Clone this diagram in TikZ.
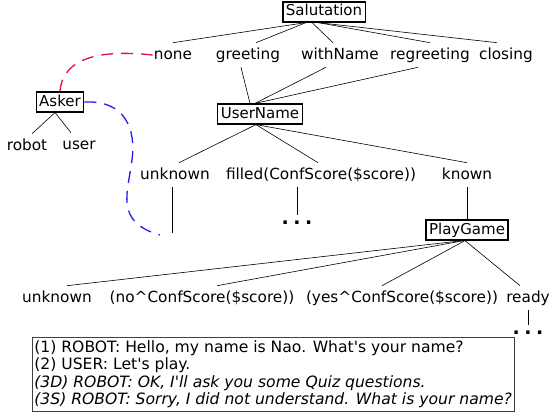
\documentclass[tikz,border=0pt]{standalone}
\usepackage{fontspec}
\setmainfont{DejaVu Sans}
\usepackage{xcolor}
\definecolor{askred}{RGB}{220,20,60}
\definecolor{askblue}{RGB}{30,30,235}
\tikzset{
    tree-box/.style = {draw=black, line width=1.2pt, rectangle, inner xsep=3pt, inner ysep=3pt, text height=11pt, text depth=3pt, font=\fontsize{15}{18}\selectfont},
    tree-label/.style = {inner xsep=1pt, inner ysep=5pt, text height=11pt, text depth=3pt, font=\fontsize{15.3}{18}\selectfont},
    tree-dots/.style = {inner sep=0pt, text height=4pt, text depth=0pt, font=\fontsize{19}{19}\selectfont\bfseries},
    dialog-box/.style = {draw=black!75, line width=0.7pt, rectangle, inner xsep=2pt, inner ysep=3.5pt, align=left, anchor=north west, font=\fontsize{15.6}{17.2}\selectfont},
    asker-link/.style = {line width=1.3pt, dash pattern=on 12pt off 8pt},
}

\begin{document}
\begin{tikzpicture}[x=1pt, y=-1pt, line width=0.6pt]
\useasboundingbox (0,0) rectangle (553,415);
% salutation level
\node[tree-box] (salutation) at (324,12) {Salutation};
\node[tree-label] (none) at (173,55) {none};
\node[tree-label] (greeting) at (248,55) {greeting};
\node[tree-label] (with-name) at (340,55) {withName};
\node[tree-label] (regreeting) at (430,55) {regreeting};
\node[tree-label] (closing) at (506,55) {closing};
\draw ([xshift=-18pt]salutation.south) -- (none.north);
\draw ([xshift=-18pt]salutation.south) -- ([xshift=8pt]greeting.north);
\draw ([xshift=-12pt]salutation.south) -- ([xshift=-7pt]with-name.north);
\draw ([xshift=-6pt]salutation.south) -- (regreeting.north);
\draw ([xshift=-6pt]salutation.south) -- ([xshift=-9pt]closing.north);

% asker
\node[tree-box] (asker) at (60,102) {Asker};
\node[tree-label] (robot) at (27,146) {robot};
\node[tree-label] (user) at (79,145) {user};
\draw ([xshift=-5pt]asker.south) -- ([xshift=5pt]robot.north);
\draw ([xshift=-5pt]asker.south) -- ([xshift=-8pt]user.north);

% user name level
\node[tree-box] (user-name) at (260,114) {UserName};
\draw ([xshift=-7pt]greeting.south) -- ([xshift=-10pt]user-name.north);
\draw ([xshift=-14pt]with-name.south) -- ([xshift=-5pt]user-name.north);
\draw ([xshift=-12pt]regreeting.south) -- ([xshift=-5pt]user-name.north);
\node[tree-label] (unknown) at (175,175) {unknown};
\node[tree-label] (filled) at (321,175) {filled(ConfScore(\$score))};
\node[tree-label] (known) at (467,175) {known};
\draw ([xshift=-4pt]user-name.south) -- ([xshift=4pt]unknown.north);
\draw ([xshift=-4pt]user-name.south) -- ([xshift=-3pt]filled.north);
\draw ([xshift=-4pt]user-name.south) -- (known.north);
\node[tree-dots] (filled-dots) at (297,222) {.\hspace{4.5pt}.\hspace{4.5pt}.};
\draw (filled-dots |- filled.south) -- ([yshift=5pt]filled-dots.north);
\coordinate (unknown-end) at (172,233);
\draw (unknown-end |- unknown.south) -- (unknown-end);

% play game level
\node[tree-box] (play-game) at (467,230) {PlayGame};
\draw (known.south) -- (play-game.north);
\node[tree-label] (unknown-play) at (57,298) {unknown};
\node[tree-label] (no-score) at (202,298) {(no\textasciicircum ConfScore(\$score))};
\node[tree-label] (yes-score) at (402,298) {(yes\textasciicircum ConfScore(\$score))};
\node[tree-label] (ready) at (528,298) {ready};
\draw ([xshift=-4pt]play-game.south) -- ([xshift=10pt]unknown-play.north);
\draw ([xshift=-3pt]play-game.south) -- ([xshift=15pt]no-score.north);
\draw ([xshift=-2pt]play-game.south) -- ([xshift=-20pt]yes-score.north);
\draw ([xshift=-2pt]play-game.south) -- ([xshift=-8pt]ready.north);
\node[tree-dots] (ready-dots) at (528,332) {.\hspace{4.5pt}.\hspace{4.5pt}.};
\draw (ready-dots |- ready.south) -- ([yshift=5pt]ready-dots.north);

% asker links
\draw[asker-link, askred] (asker.north) .. controls (62,64) and (88,48) .. (none.west);
\coordinate (blue-end) at (160,235);
\draw[asker-link, askblue] (asker.east) .. controls (126,100) and (136,130) .. (132,160)
    .. controls (128,192) and (114,222) .. (blue-end);

% dialog
\node[dialog-box] (dialog) at (32,337) {(1) ROBOT: Hello, my name is Nao. What\textquotesingle s your name?\\
(2) USER: Let\textquotesingle s play.\\
\textit{(3D) ROBOT: OK, I\textquotesingle ll ask you some Quiz questions.}\\
\textit{(3S) ROBOT: Sorry, I did not understand. What is your name?}};
\end{tikzpicture}
\end{document}
